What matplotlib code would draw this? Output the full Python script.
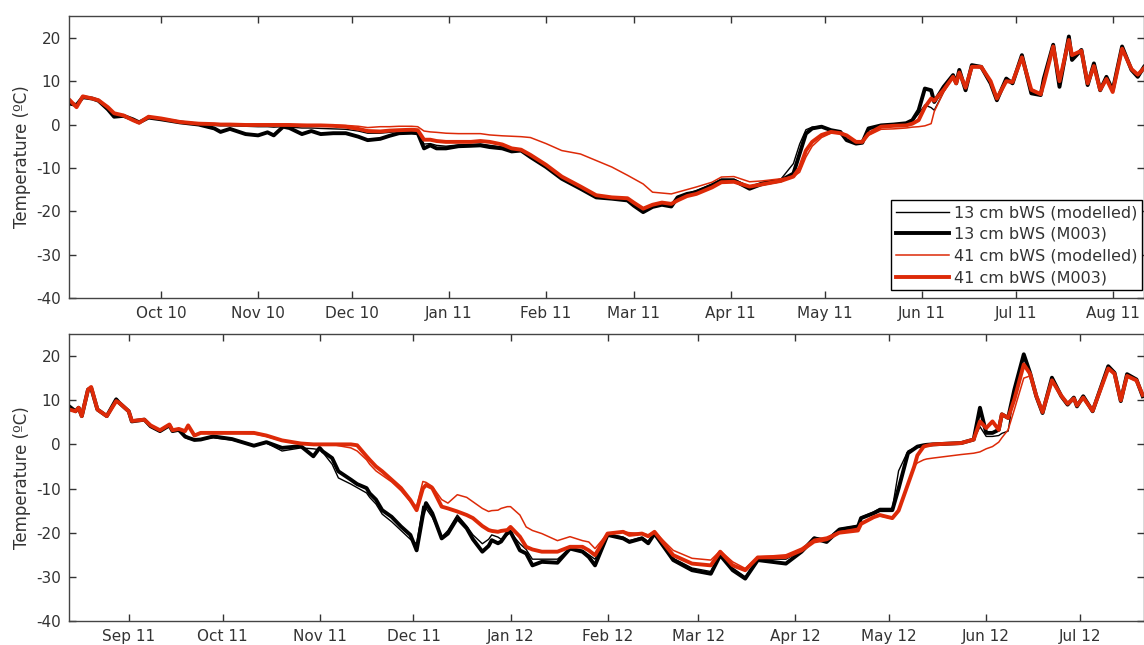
import pandas as pd
import matplotlib
matplotlib.use("Agg")
import matplotlib.pyplot as plt
import matplotlib.dates as mdates

plt.rcParams['font.family'] = ['DejaVu Sans']
plt.rcParams['axes.unicode_minus'] = False

# ---- top panel: 2010/11, days since 1 Sep 2010 ----
top_start = pd.Timestamp("2010-09-01")
days_top = [1, 3, 5, 8, 10, 13, 15, 18, 21, 23,
            26, 30, 36, 42, 47, 49, 52, 57, 61, 64,
            66, 69, 71, 75, 78, 81, 85, 89, 93, 96,
            100, 103, 106, 110, 112, 114, 116, 118, 121, 125,
            129, 132, 135, 139, 142, 145, 148, 153, 158, 164,
            169, 174, 179, 181, 184, 187, 190, 193, 195, 198,
            201, 206, 209, 213, 218, 222, 228, 232, 234, 236,
            238, 241, 244, 247, 249, 252, 254, 256, 260, 264,
            268, 270, 272, 274, 276, 277, 280,
            283, 284, 285, 287, 289, 292, 295, 297, 300, 302,
            305, 308, 311, 312, 315, 317, 320, 321, 324, 326,
            328, 330, 332, 334, 337, 340, 342, 344]

top_13_mod = [5.0, 4.4, 6.3, 6.0, 5.5, 3.6, 2.0, 2.0, 1.1, 0.5,
              1.6, 1.2, 0.5, 0.0, -0.2, -0.3, -0.3, -0.4, -0.5, -0.5,
              -0.6, -0.5, -0.6, -0.8, -0.8, -0.9, -1.0, -1.1, -1.5, -2.0,
              -2.0, -1.8, -1.6, -1.5, -1.5, -4.5, -4.4, -4.8, -5.0, -4.7,
              -4.6, -4.5, -4.8, -5.2, -5.8, -5.8, -7.2, -9.5, -12.2, -14.5,
              -16.5, -17.0, -17.3, -18.4, -19.8, -18.8, -18.3, -18.5, -17.5, -16.0,
              -15.2, -13.8, -12.6, -12.6, -14.3, -13.3, -12.6, -9.0, -4.5, -1.2,
              -0.6, -0.4, -1.2, -1.8, -3.5, -4.2, -4.0, -0.8, -0.2, 0.0,
              0.2, 0.8, 2.5, 4.5, 3.9, 3.3, 7.5,
              11.2, 9.5, 12.4, 8.0, 13.6, 13.3, 9.6, 5.8, 10.5, 9.6,
              15.8, 7.3, 6.9, 10.4, 18.2, 9.0, 20.0, 15.2, 17.0, 9.3,
              14.0, 8.0, 10.8, 7.8, 17.8, 12.7, 11.2, 13.2]

top_13_obs = [4.8, 4.5, 6.3, 6.0, 5.5, 3.5, 1.8, 2.0, 1.2, 0.5,
              1.6, 1.2, 0.5, 0.0, -0.9, -1.7, -1.0, -2.2, -2.5, -1.8,
              -2.5, -0.5, -0.8, -2.2, -1.5, -2.2, -2.0, -2.0, -2.8, -3.6,
              -3.3, -2.6, -2.0, -1.9, -2.0, -5.5, -4.8, -5.5, -5.5, -5.0,
              -4.9, -4.8, -5.2, -5.5, -6.2, -6.0, -7.5, -9.8, -12.5, -14.8,
              -16.8, -17.1, -17.5, -18.7, -20.2, -19.0, -18.5, -18.9, -16.8, -16.0,
              -15.6, -14.0, -12.9, -12.9, -14.8, -13.7, -12.9, -11.3, -6.7, -2.1,
              -0.9, -0.5, -1.3, -1.7, -3.6, -4.4, -4.2, -0.9, -0.2, 0.0,
              0.3, 1.0, 3.3, 8.3, 7.9, 5.2, 8.7,
              11.4, 9.5, 12.6, 7.9, 13.7, 13.3, 9.5, 5.6, 10.6, 9.5,
              16.0, 7.2, 6.8, 10.6, 18.4, 8.7, 20.3, 14.9, 17.2, 9.1,
              14.1, 7.9, 11.0, 7.9, 18.0, 12.6, 11.0, 13.3]

top_41_mod = [5.4, 4.2, 6.4, 6.0, 5.6, 4.0, 2.5, 2.1, 1.1, 0.5,
              1.7, 1.4, 0.6, 0.2, 0.1, 0.0, 0.0, 0.0, 0.0, 0.0,
              0.0, 0.0, 0.0, 0.0, -0.1, -0.1, -0.1, -0.2, -0.4, -0.7,
              -0.5, -0.5, -0.4, -0.4, -0.5, -1.5, -1.7, -1.8, -2.0, -2.1,
              -2.1, -2.1, -2.4, -2.6, -2.7, -2.8, -3.0, -4.4, -6.0, -6.8,
              -8.3, -9.8, -11.7, -12.5, -13.7, -15.6, -15.8, -16.0, -15.6, -15.0,
              -14.4, -13.3, -12.1, -12.0, -13.2, -13.0, -12.5, -12.0, -11.0, -7.5,
              -5.0, -3.0, -2.0, -2.0, -2.5, -3.8, -3.9, -2.5, -1.1, -1.0,
              -0.8, -0.6, -0.5, -0.3, 0.2, 3.0, 7.5,
              10.8, 9.6, 11.8, 8.6, 13.2, 13.2, 10.0, 6.2, 9.8, 9.8,
              15.3, 8.2, 7.1, 9.4, 17.8, 10.2, 19.3, 16.0, 16.8, 9.6,
              13.4, 8.2, 10.4, 7.6, 17.3, 12.8, 11.6, 12.9]

top_41_obs = [5.5, 4.0, 6.5, 6.0, 5.6, 4.0, 2.6, 2.1, 1.0, 0.4,
              1.8, 1.4, 0.6, 0.2, 0.1, 0.0, 0.0, -0.1, -0.1, -0.1,
              -0.1, -0.1, -0.1, -0.2, -0.2, -0.2, -0.3, -0.5, -1.0, -1.5,
              -1.6, -1.4, -1.3, -1.2, -1.3, -3.5, -3.5, -3.8, -4.0, -4.0,
              -4.0, -3.8, -4.0, -4.6, -5.5, -5.8, -7.0, -9.3, -12.0, -14.3,
              -16.3, -16.8, -17.0, -18.0, -19.4, -18.5, -18.0, -18.3, -17.5, -16.5,
              -16.0, -14.5, -13.3, -13.2, -14.3, -13.8, -13.0, -12.0, -10.0, -6.0,
              -4.0, -2.4, -1.7, -2.0, -2.5, -4.0, -4.0, -2.1, -0.5, -0.3,
              -0.2, 0.2, 1.0, 4.0, 6.0, 5.5, 8.0,
              11.0, 9.5, 12.0, 8.5, 13.3, 13.3, 10.0, 6.0, 10.0, 9.8,
              15.5, 8.0, 7.0, 9.5, 18.0, 10.0, 19.5, 16.0, 17.0, 9.5,
              13.5, 8.0, 10.5, 7.5, 17.5, 12.8, 11.5, 13.0]

# ---- bottom panel: 2011/12, days since 1 Aug 2011 ----
bot_start = pd.Timestamp("2011-08-01")
days_bot = [12, 14, 15, 16, 18, 19, 21, 24, 27, 28,
            31, 32, 36, 38, 41, 44, 45, 47, 49, 50,
            52, 54, 58, 64, 71, 75, 80, 86, 90, 92,
            93, 96, 98, 102, 104, 107, 108, 110, 112, 115,
            118, 121, 123, 125, 126, 128, 131, 133, 136, 139,
            141, 144, 146, 147, 149, 150, 152, 153, 156, 158,
            160, 163, 168, 172, 176, 178, 180, 184, 189, 191,
            195, 197, 199, 205, 211, 217, 220, 224, 228, 232,
            241, 246, 250, 254, 258, 264, 265, 269, 271, 275,
            277, 280, 282, 283, 285, 286, 288, 297, 301, 303,
            305, 307, 309, 310, 312, 314, 317, 319, 321, 323,
            326, 329, 331, 333, 334, 336, 339, 344, 346, 348,
            350, 353, 355]

bot_13_mod = [8.6, 7.5, 8.3, 6.4, 12.4, 12.8, 7.9, 6.4, 10.4, 9.4,
              7.5, 5.2, 5.6, 4.1, 3.0, 4.3, 3.0, 3.0, 1.5, 1.3,
              1.0, 1.1, 1.5, 1.0, -0.3, 0.3, -1.5, -0.8, -1.0, -1.2,
              -1.8, -4.5, -7.6, -9.0, -9.8, -11.0, -12.0, -13.5, -15.8, -17.5,
              -19.5, -21.5, -22.5, -14.0, -14.5, -16.5, -21.0, -19.5, -16.0, -18.5,
              -20.5, -22.5, -21.5, -20.5, -21.0, -21.5, -20.5, -20.0, -22.5, -23.8,
              -26.0, -26.0, -26.0, -23.5, -24.0, -25.0, -26.0, -20.3, -21.0, -21.8,
              -21.0, -22.0, -20.0, -25.8, -28.0, -28.8, -25.0, -28.0, -30.0, -26.0,
              -26.0, -24.0, -21.0, -21.5, -19.0, -18.3, -16.5, -15.3, -14.5, -14.5,
              -6.0, -1.5, -0.8, -0.4, -0.2, -0.1, 0.0, 0.3, 1.1, 4.0,
              1.8, 1.8, 2.0, 2.5, 3.0, 12.0, 19.5, 16.5, 11.0, 7.2,
              15.0, 11.0, 9.2, 10.5, 8.7, 10.8, 7.6, 17.5, 16.0, 9.9,
              15.7, 14.6, 11.0]

bot_13_obs = [8.6, 7.5, 8.3, 6.4, 12.4, 12.8, 7.9, 6.4, 10.2, 9.4,
              7.5, 5.2, 5.6, 4.1, 3.0, 4.3, 3.0, 3.3, 1.8, 1.5,
              1.0, 1.1, 1.8, 1.2, -0.3, 0.5, -0.8, -0.4, -2.7, -0.8,
              -1.6, -3.1, -6.1, -8.0, -9.0, -9.9, -11.1, -12.5, -14.9, -16.4,
              -18.6, -20.5, -24.0, -16.0, -13.3, -15.6, -21.3, -20.2, -16.7, -19.0,
              -21.5, -24.3, -23.0, -21.7, -22.4, -22.0, -20.0, -19.8, -24.0, -24.7,
              -27.4, -26.6, -26.8, -23.6, -24.3, -25.5, -27.4, -20.5, -21.3, -22.1,
              -21.3, -22.4, -20.2, -26.2, -28.5, -29.3, -25.1, -28.5, -30.4, -26.2,
              -27.0, -24.3, -21.3, -22.1, -19.4, -18.7, -16.7, -15.6, -14.9, -14.9,
              -10.0, -2.0, -1.0, -0.5, -0.2, -0.1, 0.0, 0.3, 1.1, 8.3,
              2.6, 2.6, 3.3, 6.8, 6.0, 12.4, 20.4, 16.2, 10.9, 7.1,
              15.1, 10.9, 9.0, 10.6, 8.6, 10.9, 7.5, 17.7, 16.2, 9.8,
              15.9, 14.7, 10.9]

bot_41_mod = [7.9, 7.5, 8.3, 6.4, 12.4, 13.0, 7.9, 6.4, 9.8, 9.4,
              7.5, 5.3, 5.6, 4.3, 3.2, 4.5, 3.2, 3.5, 3.0, 4.0,
              2.2, 2.6, 2.6, 2.6, 2.4, 1.8, 0.8, 0.2, 0.0, 0.0,
              0.0, 0.0, -0.3, -0.8, -1.5, -3.5, -4.5, -6.0, -7.0, -8.5,
              -10.5, -13.0, -14.0, -8.4, -8.6, -9.5, -12.5, -13.3, -11.4, -12.0,
              -13.0, -14.5, -15.2, -15.0, -14.9, -14.5, -14.1, -14.1, -16.0, -18.7,
              -19.5, -20.2, -21.8, -20.9, -21.8, -22.1, -23.6, -20.2, -19.8, -20.0,
              -20.2, -20.5, -19.8, -24.0, -25.8, -26.2, -24.1, -26.6, -28.1, -25.5,
              -25.0, -23.5, -21.5, -21.0, -19.8, -19.0, -17.8, -16.5, -16.2, -16.8,
              -15.0, -9.0, -5.0, -4.2, -3.5, -3.3, -3.1, -2.3, -2.0, -1.7,
              -1.0, -0.5, 0.5, 1.5, 3.3, 7.9, 15.0, 15.5, 11.0, 7.5,
              14.3, 11.0, 9.3, 10.3, 8.9, 10.5, 7.7, 17.0, 15.8, 10.2,
              15.3, 14.3, 11.3]

bot_41_obs = [7.9, 7.5, 8.3, 6.4, 12.4, 13.0, 7.9, 6.4, 9.8, 9.4,
              7.5, 5.3, 5.6, 4.3, 3.2, 4.5, 3.2, 3.5, 3.0, 4.3,
              2.0, 2.6, 2.6, 2.6, 2.6, 2.0, 0.9, 0.2, 0.0, 0.0,
              0.0, 0.0, 0.0, 0.0, -0.2, -2.7, -3.5, -5.0, -6.1, -8.0,
              -9.9, -12.6, -14.9, -10.0, -9.2, -9.9, -14.1, -14.5, -15.2, -16.0,
              -16.7, -18.5, -19.4, -19.6, -19.8, -19.6, -19.4, -18.7, -20.9, -23.2,
              -23.8, -24.3, -24.3, -23.2, -23.2, -24.0, -25.1, -20.2, -19.8, -20.5,
              -20.2, -20.8, -19.8, -25.1, -27.0, -27.4, -24.3, -27.4, -28.5, -25.6,
              -25.5, -24.0, -22.0, -21.5, -20.0, -19.5, -18.0, -16.5, -16.0, -16.7,
              -15.0, -9.0, -5.0, -2.5, -0.5, -0.3, 0.0, 0.3, 1.1, 5.2,
              3.7, 5.2, 3.3, 6.8, 6.0, 10.2, 18.1, 16.0, 11.0, 7.3,
              14.5, 11.0, 9.2, 10.4, 8.8, 10.6, 7.6, 17.2, 16.0, 10.0,
              15.5, 14.5, 11.2]

labels = ["13 cm bWS (modelled)", "13 cm bWS (M003)",
          "41 cm bWS (modelled)", "41 cm bWS (M003)"]
red = "#dd2a08"
styles = [("black", 1.0), ("black", 2.8), (red, 1.1), (red, 2.8)]
text_col = "#333333"

fig = plt.figure(figsize=(11.44, 6.45), dpi=100)
ax_top = fig.add_axes([0.0603, 0.538, 0.9397, 0.437])
ax_bot = fig.add_axes([0.0603, 0.0372, 0.9397, 0.445])

panels = [
    (ax_top, top_start, days_top, [top_13_mod, top_13_obs, top_41_mod, top_41_obs],
     (pd.Timestamp("2010-09-01 14:00"), pd.Timestamp("2011-08-11"))),
    (ax_bot, bot_start, days_bot, [bot_13_mod, bot_13_obs, bot_41_mod, bot_41_obs],
     (pd.Timestamp("2011-08-12 22:00"), pd.Timestamp("2012-07-21 10:00"))),
]

for ax, start, days, series, xlim in panels:
    dates = start + pd.to_timedelta(days, unit="D")
    for vals, (col, lw), lab in zip(series, styles, labels):
        ax.plot(dates, vals, color=col, lw=lw, label=lab, solid_joinstyle="round")
    ax.set_xlim(*xlim)
    ax.set_ylim(-40, 25)
    ax.set_yticks([-40, -30, -20, -10, 0, 10, 20])
    ax.xaxis.set_major_locator(mdates.MonthLocator())
    ax.xaxis.set_major_formatter(mdates.DateFormatter("%b %y"))
    ax.tick_params(direction="in", top=True, right=True, length=5, width=1,
                   colors=text_col, labelsize=11, pad=6)
    for sp in ax.spines.values():
        sp.set_color("#444444")
        sp.set_linewidth(1.0)
    ax.set_ylabel("Temperature (ºC)", fontsize=12, color=text_col)
    ax.yaxis.set_label_coords(-0.035, 0.5)

leg = ax_top.legend(loc="lower right", bbox_to_anchor=(0.998, 0.028), borderaxespad=0,
                    fancybox=False, framealpha=1, edgecolor="black", fontsize=11.5,
                    handlelength=3.3, labelspacing=0.42, borderpad=0.3, handletextpad=0.3)
leg.get_frame().set_linewidth(1.0)
for t in leg.get_texts():
    t.set_color(text_col)

fig.savefig("out.png", dpi=100)
